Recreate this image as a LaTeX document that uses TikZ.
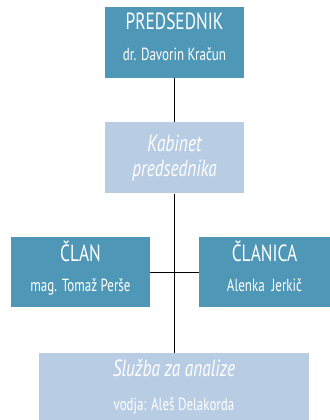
\documentclass[tikz,border=0pt]{standalone}
\usepackage{fontspec}
\setmainfont[FakeStretch=0.74]{PT Sans}
\usetikzlibrary{positioning}
\definecolor{darkbox}{RGB}{79,151,183}
\definecolor{lightbox}{RGB}{184,204,228}
\newcommand{\subline}{\fontsize{15}{15}\selectfont}
\begin{document}
\begin{tikzpicture}
    \tikzstyle{head} = [rectangle, fill=darkbox, text=white, align=center, inner sep=0pt, minimum width=4.17cm, minimum height=2.13cm, text depth=10pt, font=\fontsize{20}{20}\selectfont]
    \tikzstyle{office} = [rectangle, fill=lightbox, text=white, align=center, inner sep=0pt, minimum width=4.17cm, minimum height=2.13cm, font=\fontsize{20}{21}\selectfont\itshape]
    \tikzstyle{link} = [draw, black, line width=0.6pt]

    \useasboundingbox (0,0) rectangle (9.9,-12.6);

    \node[head] (predsednik) at (5.235,-1.275) {PREDSEDNIK\\[6pt]\subline dr. Davorin Kračun};
    \node[office, below=1.32cm of predsednik] (kabinet) {Kabinet\\predsednika};
    \node[head, minimum height=2.1cm] (clan) at (2.415,-8.16) {ČLAN\\[6pt]\subline mag. Tomaž Perše};
    \node[head, minimum width=3.93cm, minimum height=2.1cm] (clanica) at (7.935,-8.16) {ČLANICA\\[6pt]\subline Alenka\ \ Jerkič};
    \node[office, minimum width=8.1cm, minimum height=2.01cm] (sluzba) at (5.22,-11.595) {Služba za analize\\[8pt]\upshape\subline vodja: Aleš Delakorda};

    \draw[link] (predsednik) -- (kabinet);
    \draw[link] (kabinet) -- (kabinet |- sluzba.north);
    \draw[link] (clan) -- (clanica);
\end{tikzpicture}
\end{document}
